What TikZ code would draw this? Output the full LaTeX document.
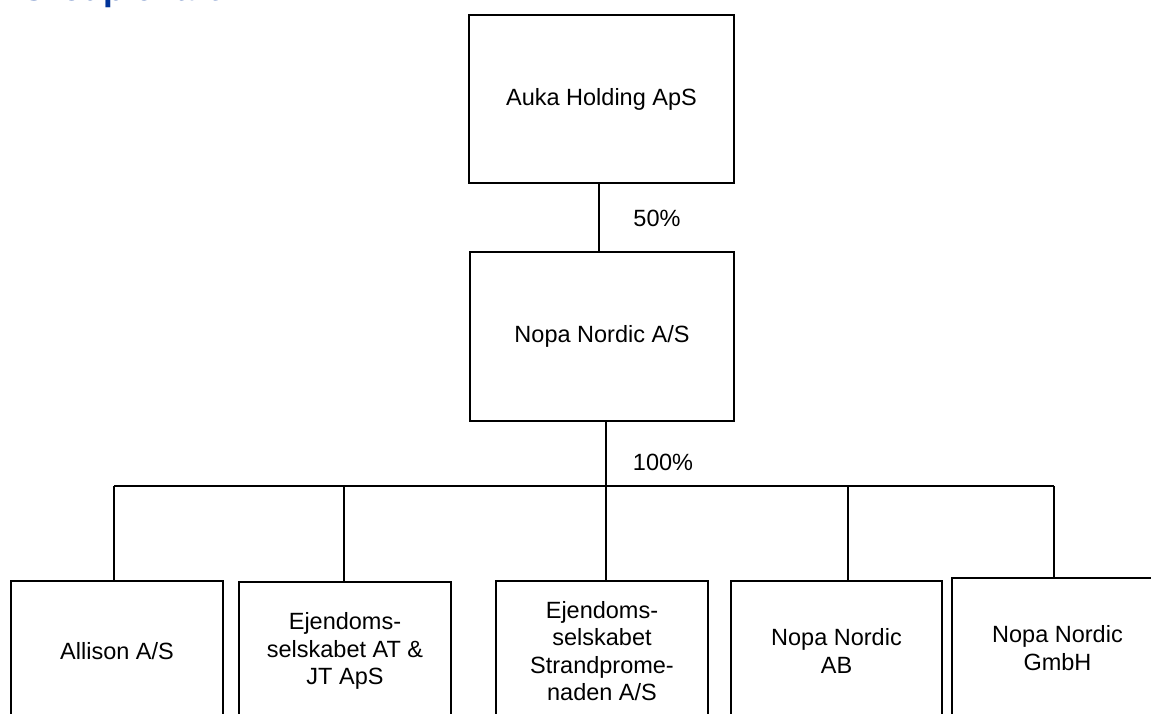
\documentclass[tikz,border=0pt]{standalone}
\usepackage{fontspec}
\setmainfont{Liberation Sans}
\definecolor{titleblue}{RGB}{0,51,153}
\tikzset{
  orgbox/.style={draw=black, line width=1.2pt, rectangle, align=center, inner sep=0pt,
    font=\fontsize{23.5}{27.3}\selectfont},
  conn/.style={draw=black, line width=1.6pt},
  pct/.style={font=\fontsize{23.5}{27.3}\selectfont, inner sep=0pt},
}
\begin{document}
\begin{tikzpicture}[x=1pt,y=-1pt]
\useasboundingbox (0,0) rectangle (1151,714);
\clip (0,0) rectangle (1151,714);
% cut-off title
\node[anchor=base west, inner sep=0pt, text=titleblue, font=\bfseries\fontsize{35}{40}\selectfont] (title) at (20,0.5) {Group chart};
% top boxes
\node[orgbox, minimum width=265pt, minimum height=168pt] (auka) at (601.5,99) {Auka Holding ApS};
\node[orgbox, minimum width=264pt, minimum height=169pt] (nopa) at (602,336.5) {Nopa Nordic A/S};
% bottom boxes (cut off by the page edge)
\node[orgbox, minimum width=212pt, minimum height=140pt] (b1) at (117,651) {Allison A/S};
\node[orgbox, minimum width=212pt, minimum height=138pt] (b2) at (345,651) {Ejendoms-\\selskabet AT \&\\JT ApS};
\node[orgbox, minimum width=212pt, minimum height=140pt] (b3) at (602,651) {Ejendoms-\\selskabet\\Strandprome-\\naden A/S};
\node[orgbox, minimum width=211pt, minimum height=140pt] (b4) at (836.5,651) {Nopa Nordic\\AB};
\node[orgbox, minimum width=211pt, minimum height=140pt] (b5) at (1057.5,648) {Nopa Nordic\\GmbH};
% connectors
\coordinate (aukaout) at (599,183);
\coordinate (nopaout) at (606,421);
\coordinate (bus) at (606,486);
\coordinate (busL) at (114,486);
\coordinate (bus2) at (344,486);
\coordinate (bus4) at (848,486);
\coordinate (busR) at (1054,486);
\draw[conn] (aukaout) -- (aukaout |- nopa.north);
\draw[conn] (nopaout) -- (bus) -- (bus |- b3.north);
\draw[conn] (busL) -- (busR);
\draw[conn] (busL) -- (busL |- b1.north);
\draw[conn] (bus2) -- (bus2 |- b2.north);
\draw[conn] (bus4) -- (bus4 |- b4.north);
\draw[conn] (busR) -- (busR |- b5.north);
% percentages
\node[pct] (p50) at (657,218) {50\%};
\node[pct] (p100) at (663,462) {100\%};
\end{tikzpicture}
\end{document}
